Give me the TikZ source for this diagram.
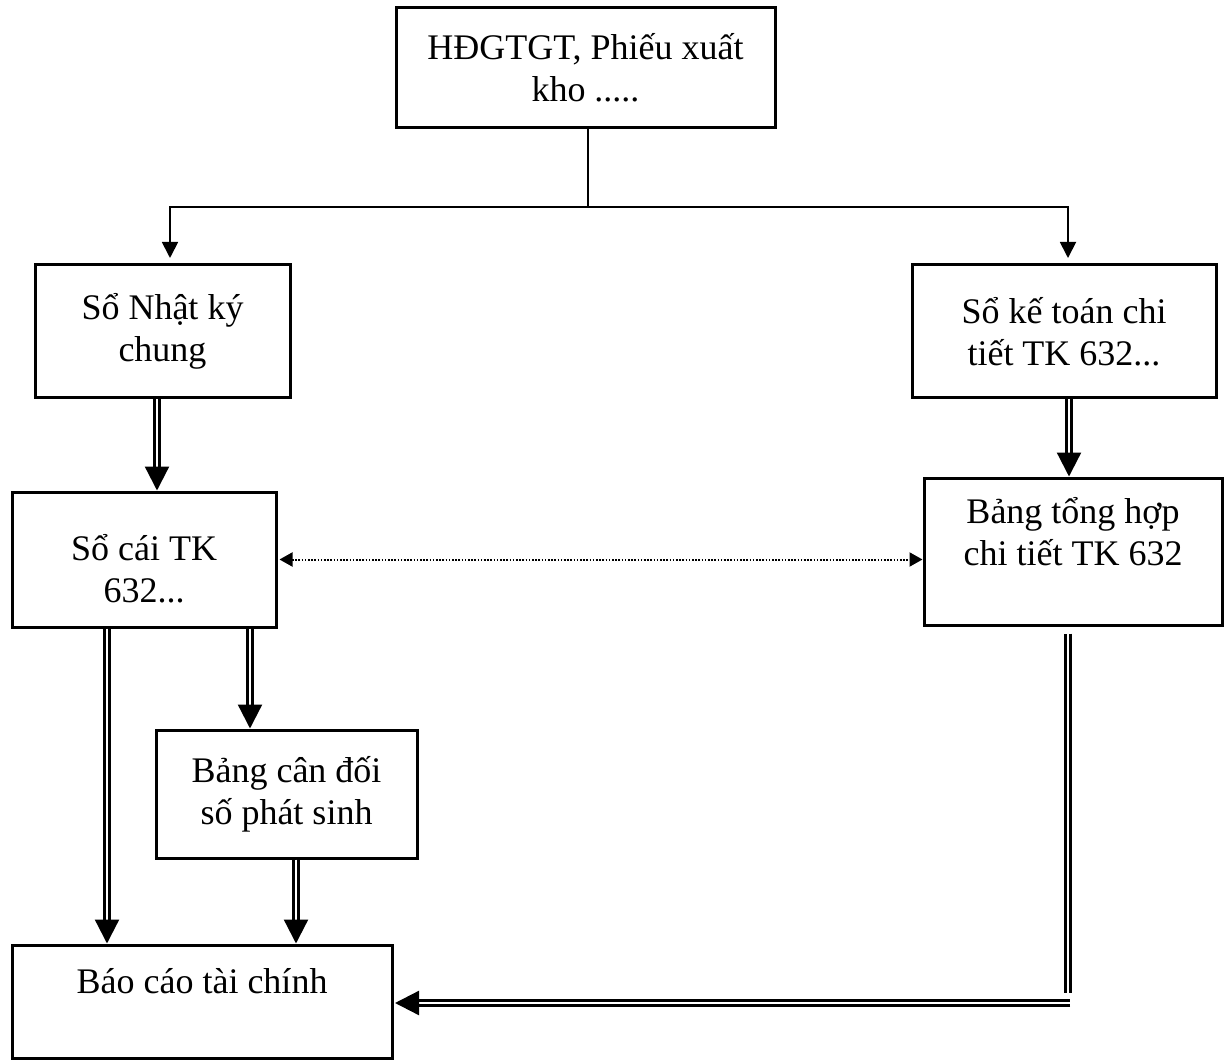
\documentclass[tikz,border=0pt]{standalone}
\usepackage{fontspec}
\setmainfont{Liberation Serif}
\usetikzlibrary{arrows.meta,calc}
\begin{document}
\begin{tikzpicture}[x=1pt,y=-1pt,
  box/.style={draw,line width=3pt,rectangle,align=center,inner sep=0pt,
    font=\fontsize{36}{42}\selectfont},
  thin/.style={line width=1.8pt},
  dbl/.style={double,line width=2.3pt,double distance=2.8pt,
    -{Triangle[length=24pt,width=24pt]}},
  dblline/.style={double,line width=2.3pt,double distance=2.8pt},
  onearrow/.style={thin,-{Triangle[length=16pt,width=16pt]}},
  dots/.style={line width=2pt,dash pattern=on 1.6pt off 1.6pt,
    {Triangle[length=13pt,width=14pt]}-{Triangle[length=13pt,width=14pt]}}]
\useasboundingbox (0,0) rectangle (1229,1064);

\node[box,minimum width=379pt,minimum height=120pt] (src) at (585.5,68) {HĐGTGT, Phiếu xuất\\kho .....};
\node[box,minimum width=255pt,minimum height=133pt] (nkc) at (162.5,331.5) {Sổ Nhật ký\\chung};
\node[box,minimum width=304pt,minimum height=133pt] (sokt) at (1064,331.5) {Sổ kế toán chi\\tiết TK 632...};
\node[box,minimum width=264pt,minimum height=135pt] (socai) at (144,559.5) {\raisebox{-14pt}[\height][\depth]{\begin{tabular}{@{}c@{}}Sổ cái TK\\632...\end{tabular}}};
\node[box,minimum width=298pt,minimum height=147pt] (bth) at (1073,551.5) {Bảng tổng hợp\\chi tiết TK 632\\[-2pt]\mbox{}};
\node[box,minimum width=261pt,minimum height=128pt] (bcd) at (286.5,794) {Bảng cân đối\\số phát sinh};
\node[box,minimum width=380pt,minimum height=113pt] (bctc) at (202,1001.5) {Báo cáo tài chính\\\mbox{}};

% distribution from the source documents
\coordinate (split) at (588,207);
\coordinate (ltip) at (170,258);
\coordinate (rtip) at (1068,258);
\draw[thin] ([xshift=2.5pt]src.south) -- (split);
\draw[onearrow] (split) -| (ltip);
\draw[onearrow] (split) -| (rtip);

% double-line postings
\draw[dbl] ([xshift=-5.5pt]nkc.south) -- ([xshift=13pt]socai.north);
\draw[dbl] ([xshift=5pt]sokt.south) -- ([xshift=-4pt]bth.north);
\draw[dbl] ([xshift=106pt]socai.south) -- ([xshift=-36.5pt]bcd.north);
\draw[dbl] ([xshift=-37pt]socai.south) -- ([xshift=-95pt]bctc.north);
\draw[dbl] ([xshift=9.5pt]bcd.south) -- ([xshift=94pt]bctc.north);

% reconciliation
\draw[dots] ([xshift=2pt]socai.east) -- (socai.east -| bth.west);

% detail summary to financial statements
\coordinate (rdown) at (1068,993);
\coordinate (rcorner) at (1070,1003);
\draw[dblline,shorten <=7pt] ([xshift=-5pt]bth.south) -- (rdown);
\draw[dbl] (rcorner) -- ([xshift=1.5pt]bctc.east |- rcorner);
\end{tikzpicture}
\end{document}
